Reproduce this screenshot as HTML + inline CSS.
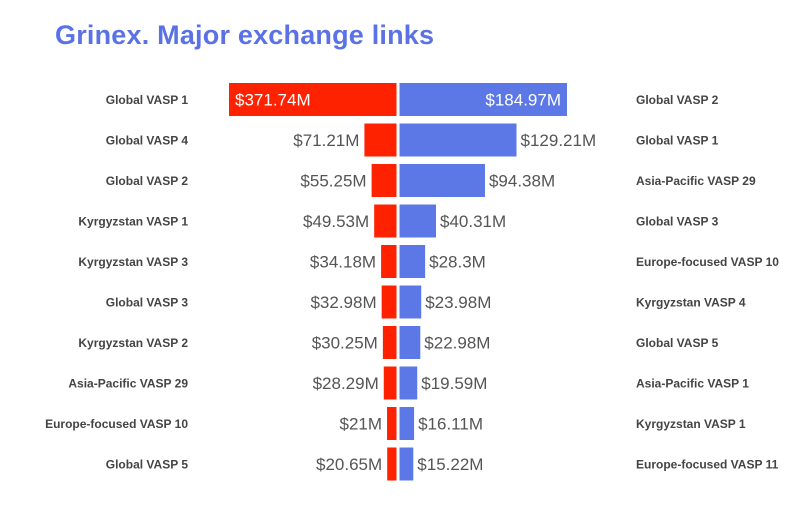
<!DOCTYPE html>
<html><head><meta charset="utf-8"><style>
body{margin:0;background:#fff;width:800px;height:518px;overflow:hidden;font-family:"Liberation Sans",sans-serif}
#t{position:absolute;left:55px;top:20px;font-size:27px;font-weight:bold;color:#5b72e6;letter-spacing:0.2px}
</style></head><body>
<div id="t">Grinex. Major exchange links</div>
<svg id="c" width="800" height="518" style="position:absolute;left:0;top:0"></svg>
<script>
const leftNames=["Global VASP 1","Global VASP 4","Global VASP 2","Kyrgyzstan VASP 1","Kyrgyzstan VASP 3","Global VASP 3","Kyrgyzstan VASP 2","Asia-Pacific VASP 29","Europe-focused VASP 10","Global VASP 5"];
const leftValues=[371.74,71.21,55.25,49.53,34.18,32.98,30.25,28.29,21,20.65];
const rightNames=["Global VASP 2","Global VASP 1","Asia-Pacific VASP 29","Global VASP 3","Europe-focused VASP 10","Kyrgyzstan VASP 4","Global VASP 5","Asia-Pacific VASP 1","Kyrgyzstan VASP 1","Europe-focused VASP 11"];
const rightValues=[184.97,129.21,94.38,40.31,28.3,23.98,22.98,19.59,16.11,15.22];
const svg=document.getElementById('c');const NS='http://www.w3.org/2000/svg';
const lx=396.5,rx=399.5,W=167.5;
const lMax=Math.max(...leftValues),rMax=Math.max(...rightValues);
const ls=v=>v/lMax*W, rs=v=>v/rMax*W;
const yc=i=>99.5+i*40.5, bh=33;
function mk(tag,attrs,txt){const e=document.createElementNS(NS,tag);for(const k in attrs)e.setAttribute(k,attrs[k]);if(txt!==undefined)e.textContent=txt;svg.appendChild(e);return e;}
const fmt=v=>'$'+v+'M';
leftValues.forEach((v,i)=>{
  const w=ls(v),y=yc(i);
  const r=mk('rect',{x:lx-w,y:y-bh/2,width:w,height:bh,fill:'#ff2200'});
  
  
  const inside=w>100;
  const t=mk('text',{x:inside?lx-w+6:lx-w-5,y:y+6,'font-size':17,fill:inside?'#fff':'#555','text-anchor':inside?'start':'end'},fmt(v));
  
  
  const n=mk('text',{x:188,y:y+4.5,'font-size':12,'font-weight':'bold',fill:'#444','text-anchor':'end'},leftNames[i]);
  
  
});
rightValues.forEach((v,i)=>{
  const w=rs(v),y=yc(i);
  const r=mk('rect',{x:rx,y:y-bh/2,width:w,height:bh,fill:'#5b78e6'});
  
  
  const inside=w>100&&v===rMax;
  const t=mk('text',{x:inside?rx+w-6:rx+w+4,y:y+6,'font-size':17,fill:inside?'#fff':'#555','text-anchor':inside?'end':'start'},fmt(v));
  
  
  const n=mk('text',{x:636,y:y+4.5,'font-size':12,'font-weight':'bold',fill:'#444','text-anchor':'start'},rightNames[i]);
  
  
});
</script>
</body></html>
